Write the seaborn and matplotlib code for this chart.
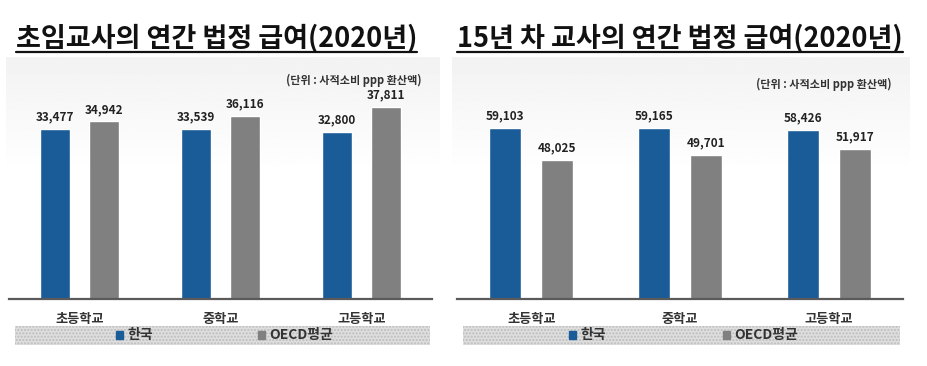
import matplotlib
matplotlib.use('Agg')
import matplotlib.pyplot as plt
import numpy as np
import pandas as pd
import seaborn as sns
from matplotlib.patches import Rectangle

schools = ['초등학교', '중학교', '고등학교']
series = ['한국', 'OECD평균']
new_korea = [33477, 33539, 32800]
new_oecd = [34942, 36116, 37811]
exp15_korea = [59103, 59165, 58426]
exp15_oecd = [48025, 49701, 51917]

titles = ['초임교사의 연간 법정 급여(2020년)', '15년 차 교사의 연간 법정 급여(2020년)']
unit_text = '(단위 : 사적소비 ppp 환산액)'
colors = ['#1a5c98', '#808080']

sns.set_theme(style='white')
plt.rcParams['font.family'] = ['Noto Sans CJK KR', 'DejaVu Sans']
plt.rcParams['axes.unicode_minus'] = False

W, H = 928, 366
fig = plt.figure(figsize=(W / 100, H / 100), dpi=100)


def fx(px):
    return px / W


def fy(py):
    return 1 - py / H


def make_df(korea, oecd):
    return pd.DataFrame({
        'school': schools * 2,
        'series': [series[0]] * 3 + [series[1]] * 3,
        'value': korea + oecd,
    })


panels = [
    dict(df=make_df(new_korea, new_oecd), ax=(9, 432), ymax=47440,
         bg=(6, 440), band=(15, 430), title_x=16, unit=(422, 80), colsp=7.6),
    dict(df=make_df(exp15_korea, exp15_oecd), ax=(457, 903), ymax=83300,
         bg=(452, 910), band=(463, 900), title_x=457, unit=(892, 84), colsp=8.4),
]

# soft grey gradient behind each panel
grad = np.concatenate([np.linspace(0.95, 1.0, 80), np.ones(120)])[:, None]
for p in panels:
    x0, x1 = p['bg']
    bga = fig.add_axes([fx(x0), fy(352), fx(x1 - x0), (352 - 57) / H], zorder=-5)
    bga.imshow(grad, aspect='auto', cmap='gray', vmin=0, vmax=1,
               extent=[0, 1, 0, 1])
    bga.axis('off')

for i, p in enumerate(panels):
    x0, x1 = p['ax']
    ax = fig.add_axes([fx(x0), fy(299), fx(x1 - x0), (299 - 58) / H])
    ax.patch.set_alpha(0)
    sns.barplot(data=p['df'], x='school', y='value', hue='series',
                palette=colors, width=0.7, gap=0.39, ax=ax, legend=False,
                errorbar=None, saturation=1)
    ax.set_xlim(-0.5, 2.5)
    ax.set_ylim(0, p['ymax'])
    for c in ax.containers:
        ax.bar_label(c, labels=[f'{v:,.0f}' for v in c.datavalues],
                     padding=4, fontsize=8.5, fontweight='bold', color='#222222')
    for s in ['top', 'left', 'right']:
        ax.spines[s].set_visible(False)
    ax.spines['bottom'].set_color('#5a5a5a')
    ax.spines['bottom'].set_linewidth(1.6)
    ax.set_yticks([])
    ax.set_xlabel('')
    ax.set_ylabel('')
    ax.tick_params(axis='x', length=0, pad=9, labelsize=9.5, labelcolor='#333333')
    for t in ax.get_xticklabels():
        t.set_fontweight('bold')

    # legend band
    b0, b1 = p['band']
    fig.patches.append(Rectangle((fx(b0), fy(345)), fx(b1 - b0), 19 / H,
                                 transform=fig.transFigure, facecolor='#dedede',
                                 edgecolor='#bdbdbd', hatch='.....', lw=0,
                                 zorder=1))
    handles = [Rectangle((0, 0), 1, 1, color=c) for c in colors]
    leg = fig.legend(handles, series, loc='center',
                     bbox_to_anchor=(fx((b0 + b1) / 2 + 2), fy(335.5)),
                     ncol=2, frameon=False, fontsize=10, handlelength=0.5,
                     handleheight=0.5, handletextpad=0.3,
                     columnspacing=p['colsp'], labelcolor='#333333')
    for t in leg.get_texts():
        t.set_fontweight('bold')

    # unit note
    ux, uy = p['unit']
    fig.text(fx(ux), fy(uy), unit_text, ha='right', va='center',
             fontsize=8, fontweight='bold', color='#333333')

    # title with underline
    t = fig.text(fx(p['title_x']), fy(38), titles[i], ha='left', va='center',
                 fontsize=19.5, fontweight='heavy', color='#111111')
    p['title'] = t

fig.canvas.draw()
renderer = fig.canvas.get_renderer()
for p in panels:
    bb = p['title'].get_window_extent(renderer)
    fig.add_artist(plt.Line2D([bb.x0 / W, bb.x1 / W], [fy(52), fy(52)],
                              transform=fig.transFigure, color='#111111', lw=1.6))

fig.savefig('out.png', dpi=100)
